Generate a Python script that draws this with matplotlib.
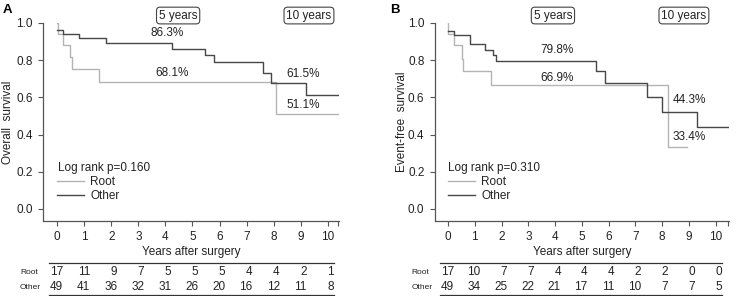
import matplotlib
matplotlib.use("Agg")
import matplotlib.pyplot as plt
from matplotlib.transforms import blended_transform_factory

plt.rcParams["font.family"] = ["Liberation Sans", "DejaVu Sans"]

########################################################
# DATA
########################################################

years = [0, 1, 2, 3, 4, 5, 6, 7, 8, 9, 10]

# panel A - overall survival
os_other_t = [0, 0.21, 0.81, 1.80, 4.23, 5.46, 5.79, 7.59, 7.89, 9.19, 10.44]
os_other_s = [0.962, 0.941, 0.918, 0.894, 0.862, 0.828, 0.789, 0.731, 0.676, 0.615, 0.615]
os_root_t = [0, 0.02, 0.21, 0.48, 0.54, 1.56, 8.10, 10.44]
os_root_s = [1.0, 0.941, 0.882, 0.816, 0.750, 0.681, 0.511, 0.511]
os_risk_root = [17, 11, 9, 7, 5, 5, 5, 4, 4, 2, 1]
os_risk_other = [49, 41, 36, 32, 31, 26, 20, 16, 12, 11, 8]

# panel B - event-free survival
efs_other_t = [0, 0.22, 0.81, 1.37, 1.68, 1.80, 5.53, 5.87, 7.44, 8.00, 9.30, 10.5]
efs_other_s = [0.959, 0.935, 0.887, 0.855, 0.828, 0.798, 0.742, 0.676, 0.600, 0.523, 0.443, 0.443]
efs_root_t = [0, 0.02, 0.22, 0.52, 0.58, 1.59, 8.21, 8.93]
efs_root_s = [1.0, 0.941, 0.882, 0.805, 0.742, 0.669, 0.334, 0.334]
efs_risk_root = [17, 10, 7, 7, 4, 4, 4, 2, 2, 0, 0]
efs_risk_other = [49, 34, 25, 22, 21, 17, 11, 10, 7, 7, 5]

DARK = "#474747"
LIGHT = "#b4b4b4"
TXT = "#222222"

PANELS = [
    {
        "label": "A",
        "rect": [0.0583, 0.2534, 0.4017, 0.669],
        "ylabel": "Overall  survival",
        "ylab_x": -0.098,
        "other": (os_other_t, os_other_s),
        "root": (os_root_t, os_root_s),
        "risk_root": os_risk_root,
        "risk_other": os_risk_other,
        "p": "Log rank p=0.160",
        "boxes": [(4.47, "5 years"), (9.3, "10 years")],
        "pct": [(4.08, 0.946, "86.3%"), (4.26, 0.733, "68.1%"),
                (9.08, 0.726, "61.5%"), (9.08, 0.559, "51.1%")],
        "xlim": (-0.52, 10.41),
        "letter_x": 0.004,
    },
    {
        "label": "B",
        "rect": [0.590, 0.2534, 0.399, 0.669],
        "ylabel": "Event-free  survival",
        "ylab_x": -0.092,
        "other": (efs_other_t, efs_other_s),
        "root": (efs_root_t, efs_root_s),
        "risk_root": efs_risk_root,
        "risk_other": efs_risk_other,
        "p": "Log rank p=0.310",
        "boxes": [(3.92, "5 years"), (8.81, "10 years")],
        "pct": [(4.07, 0.855, "79.8%"), (4.07, 0.706, "66.9%"),
                (9.02, 0.586, "44.3%"), (9.02, 0.389, "33.4%")],
        "xlim": (-0.49, 10.49),
        "letter_x": 0.530,
    },
]

########################################################
# FIGURE
########################################################

fig = plt.figure(figsize=(7.37, 2.96), dpi=100)

for pan in PANELS:

    ax = fig.add_axes(pan["rect"])

    ax.step(pan["root"][0], pan["root"][1], where="post",
            color=LIGHT, lw=1.0, label="Root")
    ax.step(pan["other"][0], pan["other"][1], where="post",
            color=DARK, lw=1.0, label="Other")

    ax.set_xlim(*pan["xlim"])
    ax.set_ylim(-0.065, 1.0)

    for side in ["top", "right"]:
        ax.spines[side].set_visible(False)
    for side in ["left", "bottom"]:
        ax.spines[side].set_color("#555555")
        ax.spines[side].set_linewidth(0.9)

    ax.set_xticks(years)
    ax.set_yticks([0.0, 0.2, 0.4, 0.6, 0.8, 1.0])
    ax.set_yticklabels(["0.0", "0.2", "0.4", "0.6", "0.8", "1.0"])
    ax.set_xticks([pan["xlim"][1] - 0.02], minor=True)
    ax.tick_params(axis="both", which="both", labelsize=8.5, length=3.5,
                   width=0.8, color="#555555", labelcolor=TXT, pad=4)

    ax.set_ylabel(pan["ylabel"], fontsize=8.5, color=TXT)
    ax.yaxis.set_label_coords(pan["ylab_x"], 0.5)
    ax.set_xlabel("Years after surgery", fontsize=8.5, color=TXT, labelpad=2)

    # boxed year marks
    for x, txt in pan["boxes"]:
        ax.text(x, 1.04, txt, ha="center", va="center", fontsize=8.5,
                color=TXT, clip_on=False,
                bbox=dict(boxstyle="round,pad=0.2,rounding_size=0.3",
                          fc="white", ec="#444444", lw=0.8))

    for x, y, txt in pan["pct"]:
        ax.text(x, y, txt, ha="center", va="center", fontsize=8.5, color=TXT)

    ax.text(0.02, 0.222, pan["p"], ha="left", va="center",
            fontsize=8.5, color=TXT)

    ax.legend(loc="upper left", bbox_to_anchor=(0.0, 0.175),
              bbox_transform=ax.transData, frameon=False, fontsize=8.5,
              handlelength=2.3, handletextpad=0.5, borderpad=0,
              borderaxespad=0, labelspacing=0.15, labelcolor=TXT)

    # panel letter
    fig.text(pan["letter_x"], 0.965, pan["label"], fontsize=9.5,
             fontweight="bold", ha="left", va="center")

    # risk table
    tr = blended_transform_factory(ax.transData, fig.transFigure)

    ax.plot([-0.28, 10.22], [0.1115, 0.1115], transform=tr,
            color="#333333", lw=0.9, clip_on=False)
    ax.plot([-0.28, 10.22], [0.004, 0.004], transform=tr,
            color="#333333", lw=0.9, clip_on=False)

    ax.text(-1.37, 0.081, "Root", transform=tr, fontsize=6,
            ha="left", va="center", color=TXT)
    ax.text(-1.37, 0.030, "Other", transform=tr, fontsize=6,
            ha="left", va="center", color=TXT)

    for x, r, o in zip(years, pan["risk_root"], pan["risk_other"]):
        ax.text(x + 0.22, 0.081, str(r), transform=tr, fontsize=8.5,
                ha="right", va="center", color=TXT)
        ax.text(x + 0.22, 0.030, str(o), transform=tr, fontsize=8.5,
                ha="right", va="center", color=TXT)

plt.savefig("out.png", dpi=100)
